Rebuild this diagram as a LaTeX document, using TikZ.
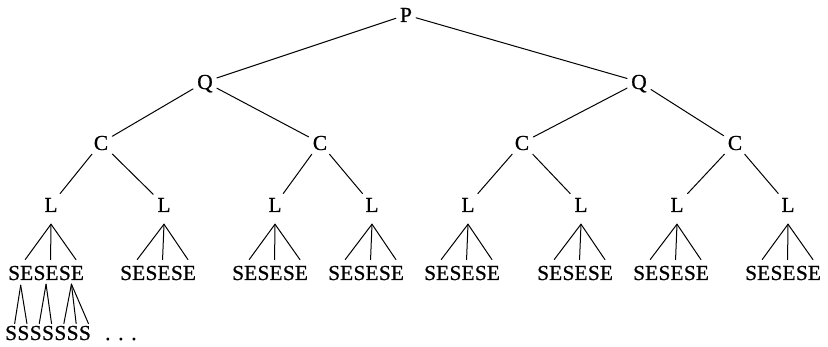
\documentclass[tikz,border=0pt]{standalone}
\usepackage{fontspec}
\setmainfont[FakeBold=0.7]{Liberation Serif}
\begin{document}
\begin{tikzpicture}[x=1pt,y=-1pt,
  lab/.style={font=\fontsize{21.4pt}{24pt}\selectfont, text height=14.2pt, text depth=0pt, inner sep=4pt, anchor=base},
  seg/.style={font=\fontsize{21.4pt}{24pt}\selectfont, text height=14.2pt, text depth=0pt, inner sep=0pt, anchor=base west},
  edge/.style={line width=1pt, line cap=round}]
\useasboundingbox (0,0) rectangle (828,347);
% upper levels
\node[lab] (P) at (406,22) {P};
\node[lab] (Q1) at (205,89) {Q};
\node[lab] (Q2) at (639,89) {Q};
\node[lab] (C1) at (101,150) {C};
\node[lab] (C2) at (320,150) {C};
\node[lab] (C3) at (522,150) {C};
\node[lab] (C4) at (735,150) {C};
\draw[edge] (P) -- (Q1);
\draw[edge] (P) -- (Q2);
\draw[edge] (Q1) -- (C1);
\draw[edge] (Q1) -- (C2);
\draw[edge] (Q2) -- (C3);
\draw[edge] (Q2) -- (C4);
% L level and SE blocks
\foreach \k/\lx/\sx in {1/51/8,2/164/120,3/275/232,4/372/328,5/468/424,6/581/537,7/677/633,8/788/745}{
  \node[lab] (L\k) at (\lx,212) {L};
  \node[seg] (S\k-a) at (\sx,280) {SE};
  \node[seg] (S\k-b) at (S\k-a.base east) {SE};
  \node[seg] (S\k-c) at (S\k-b.base east) {SE};
  \foreach \n in {a,b,c}
    \draw[edge] ([yshift=-8pt]L\k.south) -- ([xshift=4.5pt,yshift=6pt]S\k-\n.north);
}
\draw[edge] (C1) -- (L1);
\draw[edge] (C1) -- (L2);
\draw[edge] (C2) -- (L3);
\draw[edge] (C2) -- (L4);
\draw[edge] (C3) -- (L5);
\draw[edge] (C3) -- (L6);
\draw[edge] (C4) -- (L7);
\draw[edge] (C4) -- (L8);
% bottom S row
\node[seg] (b1) at (5,340) {S};
\node[seg] (b2) at (b1.base east) {S};
\node[seg] (b3) at (b2.base east) {S};
\node[seg] (b4) at (b3.base east) {S};
\node[seg] (b5) at (b4.base east) {S};
\node[seg] (b6) at (b5.base east) {S};
\node[seg] (b7) at (b6.base east) {S};
\node[seg] (dots) at (105,340) {.\hspace{0.36em}.\hspace{0.36em}.};
\foreach \n in {1,2}
  \draw[edge] ([yshift=-5pt]S1-a.south) -- ([xshift=3.5pt,yshift=2pt]b\n.north);
\foreach \n in {3,4}
  \draw[edge] ([yshift=-4pt]S1-b.south) -- ([xshift=3.5pt,yshift=2pt]b\n.north);
\foreach \n in {5,6,7}
  \draw[edge] ([yshift=-4pt]S1-c.south) -- ([xshift=3.5pt,yshift=2pt]b\n.north);
\end{tikzpicture}
\end{document}
